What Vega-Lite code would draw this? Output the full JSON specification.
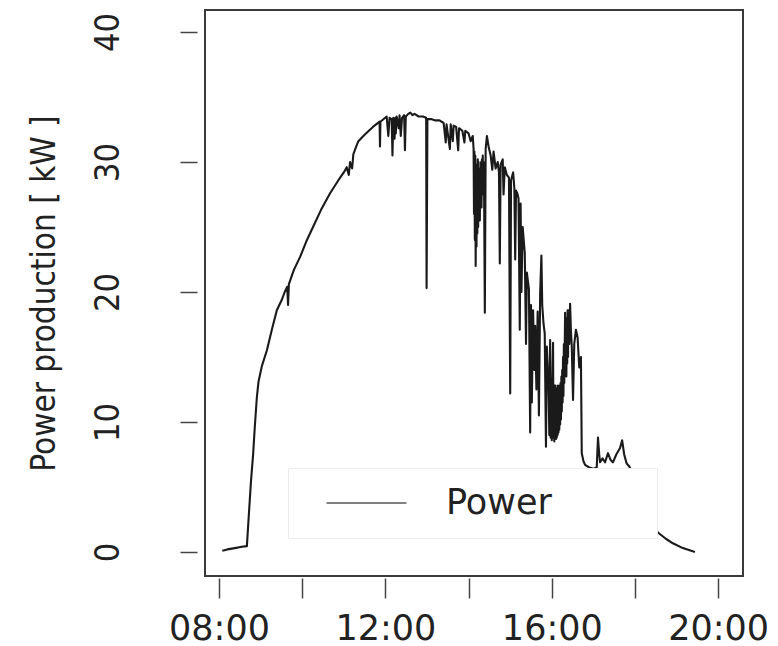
{
  "$schema": "https://vega.github.io/schema/vega-lite/v6.json",
  "width": 538,
  "height": 566,
  "autosize": "none",
  "padding": {"left": 205, "top": 10, "right": 35, "bottom": 70},
  "background": "white",
  "config": {
    "view": {"stroke": "#3a3a3a", "strokeWidth": 2},
    "axis": {"grid": false, "domain": false, "ticks": true, "tickColor": "#444", "tickWidth": 1.5, "tickSize": 18, "labelColor": "#222", "titleColor": "#222"}
  },
  "data": {"values": [
    {"hour":8.08,"kW":0.1},{"hour":8.2,"kW":0.2},{"hour":8.38,"kW":0.3},{"hour":8.55,"kW":0.4},{"hour":8.67,"kW":0.45},{"hour":8.72,"kW":3.0},{"hour":8.77,"kW":5.5},{"hour":8.82,"kW":7.5},{"hour":8.86,"kW":9.6},{"hour":8.91,"kW":11.9},{"hour":8.95,"kW":13.1},{"hour":9.03,"kW":14.3},{"hour":9.15,"kW":15.5},{"hour":9.27,"kW":17.1},{"hour":9.39,"kW":18.6},{"hour":9.51,"kW":19.4},{"hour":9.58,"kW":20.0},{"hour":9.64,"kW":20.4},{"hour":9.66,"kW":19.0},{"hour":9.68,"kW":20.6},{"hour":9.8,"kW":21.7},{"hour":9.95,"kW":22.7},{"hour":10.1,"kW":23.9},{"hour":10.26,"kW":25.0},{"hour":10.45,"kW":26.3},{"hour":10.67,"kW":27.6},{"hour":10.87,"kW":28.6},{"hour":11.0,"kW":29.2},{"hour":11.07,"kW":29.6},{"hour":11.12,"kW":29.0},{"hour":11.15,"kW":30.0},{"hour":11.2,"kW":29.5},{"hour":11.23,"kW":30.6},{"hour":11.3,"kW":31.2},{"hour":11.35,"kW":31.6},{"hour":11.5,"kW":32.1},{"hour":11.7,"kW":32.7},{"hour":11.86,"kW":33.1},{"hour":11.87,"kW":31.2},{"hour":11.88,"kW":33.1},{"hour":12.03,"kW":33.5},
    {"hour":12.07,"kW":32.0},{"hour":12.1,"kW":33.4},{"hour":12.15,"kW":33.3},{"hour":12.17,"kW":30.5},{"hour":12.19,"kW":33.4},{"hour":12.22,"kW":31.8},{"hour":12.24,"kW":33.4},{"hour":12.25,"kW":32.2},{"hour":12.27,"kW":33.5},{"hour":12.32,"kW":32.6},{"hour":12.34,"kW":33.6},{"hour":12.37,"kW":32.0},{"hour":12.4,"kW":33.4},{"hour":12.45,"kW":33.6},{"hour":12.47,"kW":30.9},{"hour":12.49,"kW":33.5},{"hour":12.55,"kW":33.7},{"hour":12.6,"kW":33.8},{"hour":12.65,"kW":33.6},{"hour":12.7,"kW":33.7},{"hour":12.8,"kW":33.5},{"hour":12.9,"kW":33.5},{"hour":12.98,"kW":33.4},{"hour":12.99,"kW":20.3},{"hour":13.01,"kW":33.3},{"hour":13.1,"kW":33.3},{"hour":13.2,"kW":33.2},{"hour":13.3,"kW":33.2},{"hour":13.4,"kW":33.0},{"hour":13.45,"kW":31.5},{"hour":13.47,"kW":32.9},{"hour":13.55,"kW":31.0},{"hour":13.57,"kW":32.9},{"hour":13.62,"kW":31.6},{"hour":13.64,"kW":32.8},{"hour":13.7,"kW":32.7},{"hour":13.75,"kW":30.9},{"hour":13.77,"kW":32.6},{"hour":13.85,"kW":32.4},{"hour":13.9,"kW":31.5},{"hour":13.92,"kW":32.4},{"hour":14.0,"kW":32.2},{"hour":14.05,"kW":31.6},{"hour":14.1,"kW":32.0},
    {"hour":14.12,"kW":31.0},{"hour":14.13,"kW":26.0},{"hour":14.14,"kW":30.8},{"hour":14.15,"kW":24.0},{"hour":14.16,"kW":30.5},{"hour":14.17,"kW":22.0},{"hour":14.18,"kW":29.5},{"hour":14.19,"kW":23.5},{"hour":14.2,"kW":29.8},{"hour":14.21,"kW":24.5},{"hour":14.22,"kW":30.2},{"hour":14.23,"kW":25.0},{"hour":14.24,"kW":30.0},{"hour":14.25,"kW":26.0},{"hour":14.26,"kW":29.0},{"hour":14.27,"kW":25.5},{"hour":14.28,"kW":29.5},{"hour":14.29,"kW":27.0},{"hour":14.3,"kW":30.0},{"hour":14.31,"kW":26.5},{"hour":14.32,"kW":30.2},{"hour":14.33,"kW":27.5},{"hour":14.34,"kW":30.5},{"hour":14.35,"kW":28.0},{"hour":14.36,"kW":30.0},{"hour":14.37,"kW":29.0},{"hour":14.39,"kW":18.4},{"hour":14.41,"kW":31.0},{"hour":14.44,"kW":32.0},{"hour":14.48,"kW":31.2},{"hour":14.53,"kW":30.5},{"hour":14.57,"kW":29.4},{"hour":14.6,"kW":30.8},{"hour":14.65,"kW":29.5},{"hour":14.7,"kW":30.0},{"hour":14.73,"kW":29.2},{"hour":14.75,"kW":22.2},{"hour":14.77,"kW":29.8},{"hour":14.82,"kW":30.2},{"hour":14.84,"kW":27.5},{"hour":14.87,"kW":29.6},{"hour":14.92,"kW":29.0},{"hour":14.97,"kW":28.8},{"hour":15.0,"kW":12.2},{"hour":15.02,"kW":28.6},{"hour":15.07,"kW":29.2},{"hour":15.1,"kW":28.0},{"hour":15.12,"kW":22.5},{"hour":15.14,"kW":27.8},{"hour":15.17,"kW":27.6},{"hour":15.2,"kW":27.2},{"hour":15.23,"kW":17.1},{"hour":15.25,"kW":26.8},{"hour":15.27,"kW":20.0},{"hour":15.3,"kW":25.0},{"hour":15.35,"kW":23.0},{"hour":15.38,"kW":16.0},{"hour":15.4,"kW":21.5},{"hour":15.45,"kW":20.2},{"hour":15.48,"kW":9.2},{"hour":15.5,"kW":19.0},{"hour":15.52,"kW":11.5},{"hour":15.55,"kW":18.6},{"hour":15.58,"kW":14.0},{"hour":15.6,"kW":17.4},{"hour":15.63,"kW":12.5},{"hour":15.66,"kW":18.5},{"hour":15.69,"kW":10.5},{"hour":15.72,"kW":19.9},{"hour":15.75,"kW":22.8},{"hour":15.77,"kW":19.0},{"hour":15.8,"kW":17.6},{"hour":15.83,"kW":16.8},{"hour":15.86,"kW":8.1},{"hour":15.88,"kW":15.8},{"hour":15.92,"kW":13.0},{"hour":15.94,"kW":9.0},{"hour":15.96,"kW":16.3},{"hour":15.97,"kW":8.8},{"hour":15.98,"kW":12.8},{"hour":16.0,"kW":8.6},{"hour":16.01,"kW":12.5},{"hour":16.03,"kW":16.1},{"hour":16.04,"kW":8.8},{"hour":16.05,"kW":12.5},{"hour":16.06,"kW":8.5},{"hour":16.07,"kW":12.8},{"hour":16.08,"kW":8.8},{"hour":16.09,"kW":12.8},{"hour":16.1,"kW":8.7},{"hour":16.11,"kW":12.6},{"hour":16.12,"kW":8.8},{"hour":16.13,"kW":12.5},{"hour":16.14,"kW":9.0},{"hour":16.15,"kW":12.8},{"hour":16.16,"kW":9.2},{"hour":16.17,"kW":12.6},{"hour":16.18,"kW":9.4},{"hour":16.19,"kW":12.8},{"hour":16.2,"kW":9.8},{"hour":16.21,"kW":13.0},{"hour":16.22,"kW":10.2},{"hour":16.23,"kW":13.5},{"hour":16.24,"kW":10.8},{"hour":16.25,"kW":14.0},{"hour":16.26,"kW":11.5},{"hour":16.27,"kW":15.0},{"hour":16.28,"kW":12.0},{"hour":16.29,"kW":16.0},{"hour":16.3,"kW":13.0},{"hour":16.32,"kW":18.4},{"hour":16.33,"kW":14.0},{"hour":16.34,"kW":18.0},{"hour":16.35,"kW":13.5},{"hour":16.36,"kW":17.5},{"hour":16.37,"kW":14.5},{"hour":16.38,"kW":18.6},{"hour":16.39,"kW":15.0},{"hour":16.4,"kW":18.6},{"hour":16.42,"kW":16.0},{"hour":16.44,"kW":19.1},{"hour":16.46,"kW":17.0},{"hour":16.48,"kW":15.8},{"hour":16.51,"kW":11.7},{"hour":16.54,"kW":16.0},{"hour":16.58,"kW":17.1},{"hour":16.62,"kW":16.5},{"hour":16.66,"kW":14.2},{"hour":16.7,"kW":15.0},{"hour":16.72,"kW":7.6},{"hour":16.76,"kW":7.0},{"hour":16.8,"kW":6.7},{"hour":16.9,"kW":6.5},{"hour":17.0,"kW":6.4},{"hour":17.08,"kW":6.5},{"hour":17.11,"kW":8.8},{"hour":17.14,"kW":7.5},{"hour":17.16,"kW":6.9},{"hour":17.22,"kW":7.2},{"hour":17.28,"kW":6.9},{"hour":17.35,"kW":7.6},{"hour":17.41,"kW":7.1},{"hour":17.47,"kW":6.9},{"hour":17.55,"kW":7.5},{"hour":17.64,"kW":8.0},{"hour":17.69,"kW":8.6},{"hour":17.74,"kW":7.5},{"hour":17.8,"kW":6.8},{"hour":17.86,"kW":6.6},{"hour":17.95,"kW":6.0},{"hour":18.1,"kW":4.6},{"hour":18.3,"kW":3.0},{"hour":18.45,"kW":2.1},{"hour":18.55,"kW":1.5},{"hour":18.75,"kW":1.0},{"hour":18.91,"kW":0.67},{"hour":19.15,"kW":0.3},{"hour":19.44,"kW":0.0}
  ]},
  "mark": {"type": "line", "strokeWidth": 2.1, "strokeJoin": "round", "clip": true},
  "encoding": {
    "x": {
      "field": "hour", "type": "quantitative",
      "scale": {"domain": [7.6635, 20.596], "nice": false, "zero": false},
      "axis": {"values": [8, 10, 12, 14, 16, 18, 20], "labelExpr": "datum.value % 4 == 0 ? (datum.value < 10 ? '0' : '') + datum.value + ':00' : ''", "title": null, "labelFont": "DejaVu Sans", "labelFontSize": 35, "labelPadding": 13, "offset": 2, "tickSize": 20, "labelFlush": false, "labelOverlap": false}
    },
    "y": {
      "field": "kW", "type": "quantitative",
      "scale": {"domain": [-1.846, 41.692], "nice": false, "zero": false},
      "axis": {"values": [0, 10, 20, 30, 40], "labelAngle": -90, "labelAlign": "center", "labelBaseline": "bottom", "labelFont": "DejaVu Sans Condensed, Liberation Sans", "labelFontSize": 34, "labelPadding": 55, "offset": 8, "tickSize": 17, "labelFlush": false, "labelOverlap": false, "title": "Power production [ kW ]", "titleFont": "DejaVu Sans Condensed, Liberation Sans", "titleFontSize": 33, "titleFontWeight": "normal", "titlePadding": 30}
    },
    "color": {
      "datum": "Power", "type": "nominal",
      "scale": {"range": ["#1a1a1a"]},
      "legend": {"orient": "none", "legendX": 83, "legendY": 458, "title": null, "symbolType": "stroke", "symbolSize": 6400, "symbolStrokeWidth": 2.2, "clipHeight": 36, "padding": 17, "symbolOffset": 20, "labelOffset": 38, "labelLimit": 400, "labelFont": "DejaVu Sans", "labelFontSize": 35, "labelColor": "#222", "labelExpr": "datum.label + '\u2800\u2800\u00a0\u2800'", "fillColor": "white", "strokeColor": "#ececec", "encode": {"symbols": {"update": {"strokeOpacity": {"value": 0.55}}}}}
    }
  }
}
